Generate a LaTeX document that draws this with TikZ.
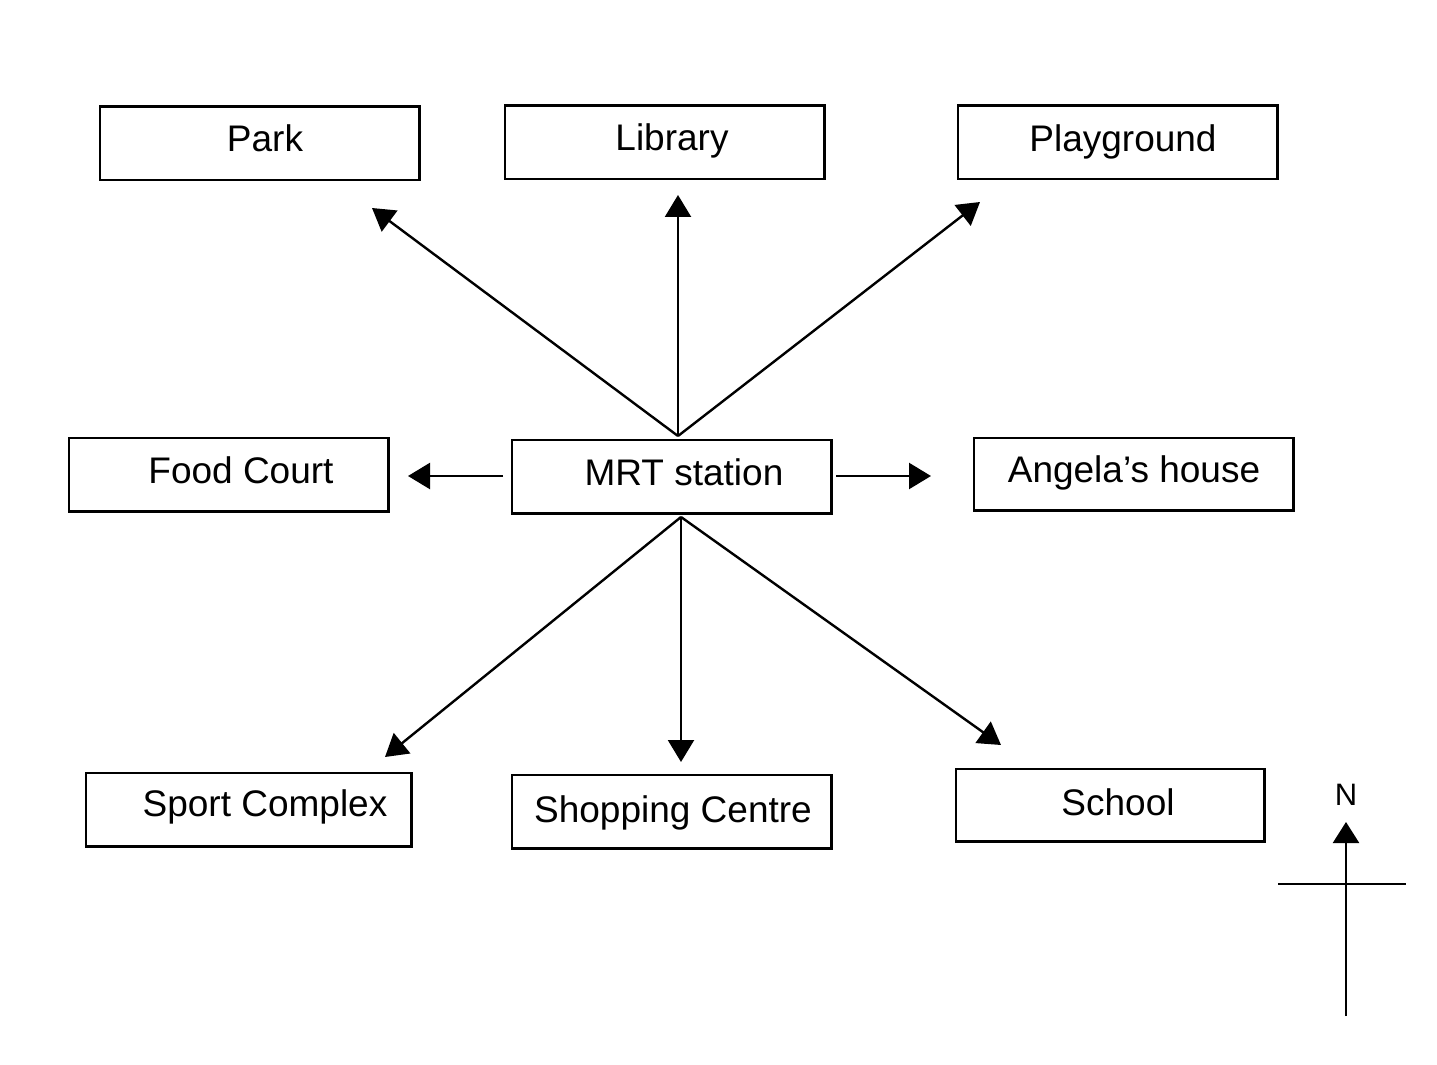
\documentclass[tikz,border=0pt]{standalone}
\usepackage{fontspec}
\setmainfont{Liberation Sans}
\usetikzlibrary{arrows.meta}
\begin{document}
\begin{tikzpicture}[x=0.5pt,y=-0.5pt,
  box/.style={draw,line width=1.3pt,inner sep=0pt,anchor=north west},
  lbl/.style={anchor=base,inner sep=0pt,font=\fontsize{18.5}{20}\selectfont},
  arr/.style={line width=1.2pt,-{Triangle[length=11pt,width=13pt]}}]
\useasboundingbox (0,0) rectangle (1437,1065);
% boxes
\node[box,minimum width=159.7pt,minimum height=36.7pt] (park) at (98.5,105.5) {};
\node[box,minimum width=159.7pt,minimum height=36.7pt] (lib) at (503.5,104.5) {};
\node[box,minimum width=159.7pt,minimum height=36.7pt] (play) at (956.5,104.5) {};
\node[box,minimum width=159.7pt,minimum height=36.7pt] (food) at (67.5,436.5) {};
\node[box,minimum width=159.7pt,minimum height=36.7pt] (mrt) at (510.5,438.5) {};
\node[box,minimum width=159.7pt,minimum height=36.2pt] (ang) at (972.5,436.5) {};
\node[box,minimum width=162.7pt,minimum height=36.7pt] (sport) at (84.5,771.5) {};
\node[box,minimum width=159.7pt,minimum height=36.7pt] (shop) at (510.5,773.5) {};
\node[box,minimum width=154.2pt,minimum height=36.2pt] (school) at (954.5,767.5) {};
% labels
\node[lbl] (parkT) at (265,152) {Park};
\node[lbl] (libT) at (672,151) {Library};
\node[lbl] (playT) at (1123,152) {Playground};
\node[lbl] (foodT) at (241,483) {Food Court};
\node[lbl] (mrtT) at (684,485) {MRT station};
\node[lbl] (angT) at (1134,482) {Angela’s house};
\node[lbl] (sportT) at (265,816) {Sport Complex};
\node[lbl] (shopT) at (673,822) {Shopping Centre};
\node[lbl] (schoolT) at (1118,815) {School};
% arrow anchors
\coordinate (top) at (678,436);
\coordinate (bot) at (681,517);
\coordinate (pA) at (372,208);
\coordinate (lA) at (678,195);
\coordinate (gA) at (980,202);
\coordinate (fS) at (503,476);
\coordinate (fA) at (408,476);
\coordinate (aS) at (836,476);
\coordinate (aA) at (931,476);
\coordinate (sA) at (385,757);
\coordinate (cA) at (681,762);
\coordinate (hA) at (1001,745);
\draw[arr] (top) -- (pA);
\draw[arr] (top) -- (lA);
\draw[arr] (top) -- (gA);
\draw[arr] (fS) -- (fA);
\draw[arr] (aS) -- (aA);
\draw[arr] (bot) -- (sA);
\draw[arr] (bot) -- (cA);
\draw[arr] (bot) -- (hA);
% compass
\coordinate (cS) at (1346,1016);
\coordinate (cN) at (1346,822);
\coordinate (cW) at (1278,884);
\coordinate (cE) at (1406,884);
\draw[arr,-{Triangle[length=10.5pt,width=13pt]}] (cS) -- (cN);
\draw[line width=1.2pt] (cW) -- (cE);
\node[anchor=base,inner sep=0pt,font=\fontsize{15.5}{16}\selectfont] (nT) at (1346,805) {N};
\end{tikzpicture}
\end{document}
